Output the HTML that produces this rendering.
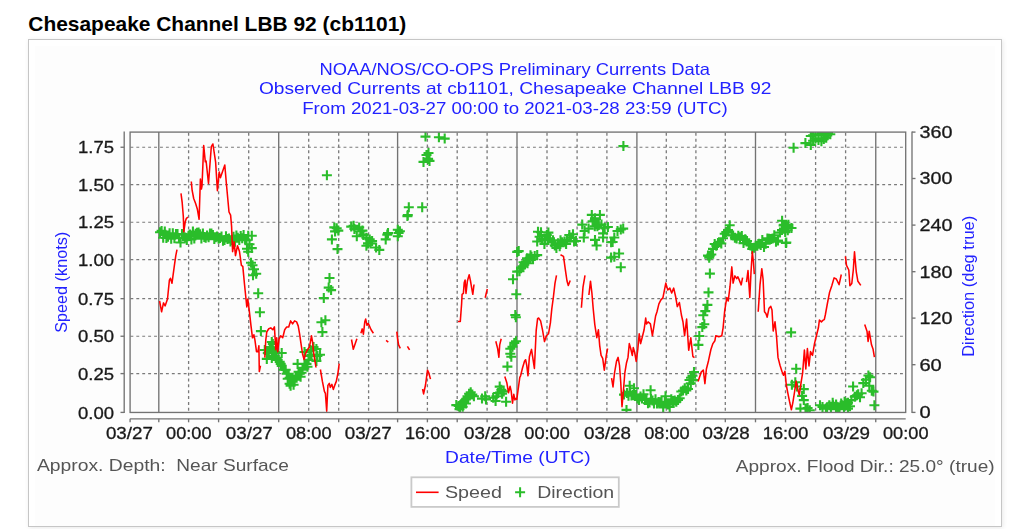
<!DOCTYPE html>
<html><head><meta charset="utf-8"><title>Chesapeake Channel LBB 92 (cb1101)</title>
<style>
html,body{margin:0;padding:0;background:#fff;width:1014px;height:529px;overflow:hidden;font-family:"Liberation Sans",sans-serif}
#box{position:absolute;left:28px;top:39px;width:972px;height:486px;border:1px solid #c6c6c6;background:#fff;box-shadow:1px 1px 5px rgba(0,0,0,0.09)}
svg{position:absolute;left:0;top:0;display:block}
</style></head><body>
<div id="box"></div>
<svg width="1014" height="529" viewBox="0 0 1014 529" font-family="'Liberation Sans', sans-serif"><defs><filter id="soft" x="0" y="0" width="1" height="1"><feGaussianBlur stdDeviation="0.38"/></filter></defs><text x="28.3" y="31" font-size="21" font-weight="bold" fill="#000" textLength="378" lengthAdjust="spacingAndGlyphs">Chesapeake Channel LBB 92 (cb1101)</text><g filter="url(#soft)"><rect x="35" y="46" width="960" height="480" fill="#fdfdfd"/>
<text x="514.7" y="74.6" font-size="16.5" fill="#2222ff" text-anchor="middle" textLength="390.5" lengthAdjust="spacingAndGlyphs">NOAA/NOS/CO-OPS Preliminary Currents Data</text>
<text x="515.2" y="94.0" font-size="16.5" fill="#2222ff" text-anchor="middle" textLength="512.5" lengthAdjust="spacingAndGlyphs">Observed Currents at cb1101, Chesapeake Channel LBB 92</text>
<text x="514.9" y="114.0" font-size="16.5" fill="#2222ff" text-anchor="middle" textLength="425.5" lengthAdjust="spacingAndGlyphs">From 2021-03-27 00:00 to 2021-03-28 23:59 (UTC)</text>
<rect x="130.1" y="132.1" width="775.60" height="280.35" fill="#fcfcfc"/>
<line x1="158.80" y1="132.1" x2="158.80" y2="412.45" stroke="#737373" stroke-width="1.35"/>
<line x1="188.60" y1="132.1" x2="188.60" y2="412.45" stroke="#7a7a7a" stroke-width="1.3" stroke-dasharray="3 2.85" stroke-dashoffset="-0.7"/>
<line x1="218.60" y1="132.1" x2="218.60" y2="412.45" stroke="#7a7a7a" stroke-width="1.3" stroke-dasharray="3 2.85" stroke-dashoffset="-0.7"/>
<line x1="248.70" y1="132.1" x2="248.70" y2="412.45" stroke="#7a7a7a" stroke-width="1.3" stroke-dasharray="3 2.85" stroke-dashoffset="-0.7"/>
<line x1="278.70" y1="132.1" x2="278.70" y2="412.45" stroke="#737373" stroke-width="1.35"/>
<line x1="308.70" y1="132.1" x2="308.70" y2="412.45" stroke="#7a7a7a" stroke-width="1.3" stroke-dasharray="3 2.85" stroke-dashoffset="-0.7"/>
<line x1="338.70" y1="132.1" x2="338.70" y2="412.45" stroke="#7a7a7a" stroke-width="1.3" stroke-dasharray="3 2.85" stroke-dashoffset="-0.7"/>
<line x1="368.60" y1="132.1" x2="368.60" y2="412.45" stroke="#7a7a7a" stroke-width="1.3" stroke-dasharray="3 2.85" stroke-dashoffset="-0.7"/>
<line x1="397.60" y1="132.1" x2="397.60" y2="412.45" stroke="#737373" stroke-width="1.35"/>
<line x1="427.40" y1="132.1" x2="427.40" y2="412.45" stroke="#7a7a7a" stroke-width="1.3" stroke-dasharray="3 2.85" stroke-dashoffset="-0.7"/>
<line x1="457.20" y1="132.1" x2="457.20" y2="412.45" stroke="#7a7a7a" stroke-width="1.3" stroke-dasharray="3 2.85" stroke-dashoffset="-0.7"/>
<line x1="487.10" y1="132.1" x2="487.10" y2="412.45" stroke="#7a7a7a" stroke-width="1.3" stroke-dasharray="3 2.85" stroke-dashoffset="-0.7"/>
<line x1="517.00" y1="132.1" x2="517.00" y2="412.45" stroke="#737373" stroke-width="1.35"/>
<line x1="547.00" y1="132.1" x2="547.00" y2="412.45" stroke="#7a7a7a" stroke-width="1.3" stroke-dasharray="3 2.85" stroke-dashoffset="-0.7"/>
<line x1="577.10" y1="132.1" x2="577.10" y2="412.45" stroke="#7a7a7a" stroke-width="1.3" stroke-dasharray="3 2.85" stroke-dashoffset="-0.7"/>
<line x1="606.90" y1="132.1" x2="606.90" y2="412.45" stroke="#7a7a7a" stroke-width="1.3" stroke-dasharray="3 2.85" stroke-dashoffset="-0.7"/>
<line x1="636.90" y1="132.1" x2="636.90" y2="412.45" stroke="#737373" stroke-width="1.35"/>
<line x1="666.30" y1="132.1" x2="666.30" y2="412.45" stroke="#7a7a7a" stroke-width="1.3" stroke-dasharray="3 2.85" stroke-dashoffset="-0.7"/>
<line x1="695.90" y1="132.1" x2="695.90" y2="412.45" stroke="#7a7a7a" stroke-width="1.3" stroke-dasharray="3 2.85" stroke-dashoffset="-0.7"/>
<line x1="725.30" y1="132.1" x2="725.30" y2="412.45" stroke="#7a7a7a" stroke-width="1.3" stroke-dasharray="3 2.85" stroke-dashoffset="-0.7"/>
<line x1="755.50" y1="132.1" x2="755.50" y2="412.45" stroke="#737373" stroke-width="1.35"/>
<line x1="785.50" y1="132.1" x2="785.50" y2="412.45" stroke="#7a7a7a" stroke-width="1.3" stroke-dasharray="3 2.85" stroke-dashoffset="-0.7"/>
<line x1="815.60" y1="132.1" x2="815.60" y2="412.45" stroke="#7a7a7a" stroke-width="1.3" stroke-dasharray="3 2.85" stroke-dashoffset="-0.7"/>
<line x1="845.60" y1="132.1" x2="845.60" y2="412.45" stroke="#7a7a7a" stroke-width="1.3" stroke-dasharray="3 2.85" stroke-dashoffset="-0.7"/>
<line x1="875.75" y1="132.1" x2="875.75" y2="412.45" stroke="#737373" stroke-width="1.35"/>
<line x1="130.1" y1="373.60" x2="905.7" y2="373.60" stroke="#7a7a7a" stroke-width="1.2" stroke-dasharray="2.9 3.02" stroke-dashoffset="-0.3"/>
<line x1="130.1" y1="336.25" x2="905.7" y2="336.25" stroke="#7a7a7a" stroke-width="1.2" stroke-dasharray="2.9 3.02" stroke-dashoffset="-0.3"/>
<line x1="130.1" y1="298.65" x2="905.7" y2="298.65" stroke="#7a7a7a" stroke-width="1.2" stroke-dasharray="2.9 3.02" stroke-dashoffset="-0.3"/>
<line x1="130.1" y1="259.60" x2="905.7" y2="259.60" stroke="#7a7a7a" stroke-width="1.2" stroke-dasharray="2.9 3.02" stroke-dashoffset="-0.3"/>
<line x1="130.1" y1="222.25" x2="905.7" y2="222.25" stroke="#7a7a7a" stroke-width="1.2" stroke-dasharray="2.9 3.02" stroke-dashoffset="-0.3"/>
<line x1="130.1" y1="184.66" x2="905.7" y2="184.66" stroke="#7a7a7a" stroke-width="1.2" stroke-dasharray="2.9 3.02" stroke-dashoffset="-0.3"/>
<line x1="130.1" y1="147.25" x2="905.7" y2="147.25" stroke="#7a7a7a" stroke-width="1.2" stroke-dasharray="2.9 3.02" stroke-dashoffset="-0.3"/>
<clipPath id="pc"><rect x="130.1" y="132.1" width="775.60" height="280.35"/></clipPath>
<g clip-path="url(#pc)"><path d="M321.9 175.3h10M326.9 170.3v10M242.0 248.7h10M247.0 243.7v10M246.8 248.1h10M251.8 243.1v10M243.2 251.7h10M248.2 246.7v10M244.5 244.3h10M249.5 239.3v10M246.8 235.7h10M251.8 230.7v10M243.2 235.7h10M248.2 230.7v10M246.0 262.8h10M251.0 257.8v10M247.5 265.3h10M252.5 260.3v10M249.0 269.3h10M254.0 264.3v10M251.2 273.8h10M256.2 268.8v10M248.0 275.3h10M253.0 270.3v10M253.2 293.3h10M258.2 288.3v10M254.9 312.3h10M259.9 307.3v10M255.9 331.1h10M260.9 326.1v10M259.8 350.0h10M264.8 345.0v10M262.8 353.0h10M267.8 348.0v10M265.8 348.0h10M270.8 343.0v10M267.8 344.0h10M272.8 339.0v10M269.8 352.0h10M274.8 347.0v10M261.8 358.9h10M266.8 353.9v10M266.8 357.9h10M271.8 352.9v10M271.7 357.9h10M276.7 352.9v10M274.7 361.9h10M279.7 356.9v10M276.7 365.9h10M281.7 360.9v10M278.7 369.8h10M283.7 364.8v10M281.7 373.8h10M286.7 368.8v10M284.6 377.8h10M289.6 372.8v10M285.6 385.7h10M290.6 380.7v10M287.6 381.7h10M292.6 376.7v10M290.6 375.8h10M295.6 370.8v10M293.6 371.8h10M298.6 366.8v10M295.6 376.8h10M300.6 371.8v10M297.5 367.8h10M302.5 362.8v10M292.6 363.9h10M297.6 358.9v10M301.5 363.9h10M306.5 358.9v10M303.5 359.9h10M308.5 354.9v10M304.5 355.9h10M309.5 350.9v10M305.5 350.0h10M310.5 345.0v10M308.5 347.0h10M313.5 342.0v10M311.4 349.0h10M316.4 344.0v10M312.4 355.9h10M317.4 350.9v10M311.4 360.9h10M316.4 355.9v10M299.5 352.0h10M304.5 347.0v10M263.8 352.0h10M268.8 347.0v10M267.8 350.0h10M272.8 345.0v10M271.7 353.0h10M276.7 348.0v10M276.7 353.0h10M281.7 348.0v10M272.7 359.9h10M277.7 354.9v10M275.7 363.9h10M280.7 358.9v10M280.7 369.8h10M285.7 364.8v10M283.7 373.8h10M288.7 368.8v10M286.6 377.8h10M291.6 372.8v10M288.6 384.7h10M293.6 379.7v10M291.6 377.8h10M296.6 372.8v10M294.6 373.8h10M299.6 368.8v10M297.5 369.8h10M302.5 364.8v10M299.5 363.9h10M304.5 358.9v10M266.8 342.0h10M271.8 337.0v10M264.8 347.0h10M269.8 342.0v10M269.8 355.9h10M274.8 350.9v10M282.7 378.8h10M287.7 373.8v10M284.6 383.7h10M289.6 378.7v10M289.6 379.7h10M294.6 374.7v10M296.5 372.8h10M301.5 367.8v10M302.5 366.8h10M307.5 361.8v10M306.5 354.9h10M311.5 349.9v10M316.4 322.2h10M321.4 317.2v10M320.4 320.2h10M325.4 315.2v10M317.4 332.1h10M322.4 327.1v10M315.0 354.8h10M320.0 349.8v10M318.8 298.1h10M323.8 293.1v10M323.7 287.6h10M328.7 282.6v10M324.5 278.0h10M329.5 273.0v10M326.1 290.1h10M331.1 285.1v10M329.3 227.4h10M334.3 222.4v10M331.7 228.2h10M336.7 223.2v10M333.3 230.6h10M338.3 225.6v10M330.1 231.4h10M335.1 226.4v10M326.9 239.4h10M331.9 234.4v10M332.5 249.1h10M337.5 244.1v10M346.2 226.6h10M351.2 221.6v10M348.6 225.8h10M353.6 220.8v10M349.4 229.0h10M354.4 224.0v10M354.2 227.4h10M359.2 222.4v10M357.4 230.6h10M362.4 225.6v10M351.8 236.2h10M356.8 231.2v10M358.2 234.6h10M363.2 229.6v10M361.4 237.8h10M366.4 232.8v10M364.7 239.4h10M369.7 234.4v10M363.0 243.4h10M368.0 238.4v10M365.5 243.4h10M370.5 238.4v10M367.1 241.0h10M372.1 236.0v10M361.4 245.8h10M366.4 240.8v10M374.3 249.9h10M379.3 244.9v10M371.1 247.5h10M376.1 242.5v10M355.4 231.2h10M360.4 226.2v10M358.4 235.1h10M363.4 230.1v10M382.3 234.6h10M387.3 229.6v10M380.7 239.4h10M385.7 234.4v10M383.0 233.1h10M388.0 228.1v10M392.8 229.8h10M397.8 224.8v10M393.6 233.0h10M398.6 228.0v10M392.8 236.2h10M397.8 231.2v10M394.9 231.2h10M399.9 226.2v10M402.4 216.1h10M407.4 211.1v10M403.8 207.2h10M408.8 202.2v10M402.8 215.1h10M407.8 210.1v10M417.2 207.2h10M422.2 202.2v10M420.5 136.6h10M425.5 131.6v10M433.9 137.2h10M438.9 132.2v10M439.7 138.6h10M444.7 133.6v10M423.5 153.0h10M428.5 148.0v10M421.5 155.0h10M426.5 150.0v10M423.1 158.9h10M428.1 153.9v10M418.5 161.9h10M423.5 156.9v10M424.5 160.9h10M429.5 155.9v10M451.3 405.1h10M456.3 400.1v10M453.7 405.9h10M458.7 400.9v10M456.1 404.3h10M461.1 399.3v10M457.7 402.6h10M462.7 397.6v10M459.3 401.0h10M464.3 396.0v10M460.9 399.4h10M465.9 394.4v10M462.5 396.2h10M467.5 391.2v10M464.1 393.8h10M469.1 388.8v10M465.7 392.2h10M470.7 387.2v10M467.3 394.6h10M472.3 389.6v10M468.9 396.2h10M473.9 391.2v10M454.5 409.1h10M459.5 404.1v10M457.7 406.7h10M462.7 401.7v10M460.9 403.5h10M465.9 398.5v10M455.0 407.0h10M460.0 402.0v10M459.0 403.1h10M464.0 398.1v10M462.9 398.2h10M467.9 393.2v10M480.2 396.2h10M485.2 391.2v10M481.0 399.4h10M486.0 394.4v10M477.0 398.6h10M482.0 393.6v10M488.2 397.8h10M493.2 392.8v10M491.4 396.2h10M496.4 391.2v10M493.1 393.0h10M498.1 388.0v10M494.7 386.6h10M499.7 381.6v10M496.3 389.8h10M501.3 384.8v10M498.7 391.4h10M503.7 386.4v10M497.1 393.8h10M502.1 388.8v10M501.1 401.8h10M506.1 396.8v10M490.6 401.0h10M495.6 396.0v10M502.4 366.6h10M507.4 361.6v10M505.3 348.8h10M510.3 343.8v10M505.3 353.8h10M510.3 348.8v10M506.3 356.7h10M511.3 351.7v10M509.3 342.9h10M514.3 337.9v10M511.0 341.3h10M516.0 336.3v10M507.5 346.8h10M512.5 341.8v10M510.9 317.3h10M515.9 312.3v10M510.3 315.0h10M515.3 310.0v10M511.3 294.3h10M516.3 289.3v10M512.2 271.6h10M517.2 266.6v10M508.0 279.3h10M513.0 274.3v10M513.7 251.1h10M518.7 246.1v10M512.2 251.9h10M517.2 246.9v10M514.5 271.2h10M519.5 266.2v10M517.7 266.4h10M522.7 261.4v10M520.9 261.6h10M525.9 256.6v10M524.1 258.4h10M529.1 253.4v10M526.5 256.7h10M531.5 251.7v10M529.7 255.9h10M534.7 250.9v10M532.2 255.1h10M537.2 250.1v10M522.5 263.2h10M527.5 258.2v10M519.3 264.8h10M524.3 259.8v10M516.0 268.3h10M521.0 263.3v10M518.5 262.3h10M523.5 257.3v10M522.0 258.3h10M527.0 253.3v10M525.5 255.3h10M530.5 250.3v10M528.0 259.3h10M533.0 254.3v10M533.0 231.8h10M538.0 226.8v10M532.2 241.5h10M537.2 236.5v10M534.6 236.7h10M539.6 231.7v10M537.0 239.1h10M542.0 234.1v10M539.4 243.9h10M544.4 238.9v10M541.8 235.0h10M546.8 230.0v10M543.4 232.6h10M548.4 227.6v10M545.0 238.3h10M550.0 233.3v10M546.6 242.3h10M551.6 237.3v10M549.8 245.5h10M554.8 240.5v10M551.4 247.9h10M556.4 242.9v10M554.7 246.3h10M559.7 241.3v10M557.1 242.3h10M562.1 237.3v10M559.5 241.5h10M564.5 236.5v10M561.9 239.9h10M566.9 234.9v10M564.3 235.0h10M569.3 230.0v10M565.9 237.5h10M570.9 232.5v10M569.1 241.5h10M574.1 236.5v10M561.1 243.9h10M566.1 238.9v10M536.0 232.3h10M541.0 227.3v10M540.0 240.3h10M545.0 235.3v10M548.0 240.3h10M553.0 235.3v10M553.0 243.3h10M558.0 238.3v10M555.5 240.3h10M560.5 235.3v10M568.0 234.3h10M573.0 229.3v10M571.0 241.0h10M576.0 236.0v10M577.2 224.6h10M582.2 219.6v10M579.6 231.0h10M584.6 226.0v10M578.8 237.5h10M583.8 232.5v10M583.6 228.6h10M588.6 223.6v10M586.8 214.9h10M591.8 209.9v10M587.6 221.4h10M592.6 216.4v10M590.0 218.2h10M595.0 213.2v10M594.9 214.9h10M599.9 209.9v10M592.4 226.2h10M597.4 221.2v10M596.5 224.6h10M601.5 219.6v10M599.7 227.8h10M604.7 222.8v10M602.9 227.0h10M607.9 222.0v10M598.1 233.4h10M603.1 228.4v10M598.1 237.5h10M603.1 232.5v10M590.0 239.9h10M595.0 234.9v10M591.6 245.5h10M596.6 240.5v10M606.1 242.3h10M611.1 237.3v10M609.3 237.5h10M614.3 232.5v10M612.5 231.0h10M617.5 226.0v10M615.8 229.4h10M620.8 224.4v10M618.2 228.6h10M623.2 223.6v10M589.8 226.2h10M594.8 221.2v10M591.8 224.3h10M596.8 219.3v10M593.8 225.0h10M598.8 220.0v10M589.8 220.0h10M594.8 215.0v10M607.6 242.0h10M612.6 237.0v10M609.3 256.7h10M614.3 251.7v10M614.1 253.5h10M619.1 248.5v10M615.8 267.2h10M620.8 262.2v10M606.1 257.6h10M611.1 252.6v10M618.4 146.1h10M623.4 141.1v10M619.0 394.6h10M624.0 389.6v10M624.7 385.8h10M629.7 380.8v10M621.5 409.9h10M626.5 404.9v10M645.6 390.3h10M650.6 385.3v10M660.5 396.3h10M665.5 391.3v10M629.0 388.3h10M634.0 383.3v10M693.4 344.9h10M698.4 339.9v10M694.3 336.0h10M699.3 331.0v10M697.3 327.1h10M702.3 322.1v10M699.3 324.2h10M704.3 319.2v10M698.3 315.3h10M703.3 310.3v10M700.3 311.1h10M705.3 306.1v10M702.4 304.9h10M707.4 299.9v10M703.5 292.4h10M708.5 287.4v10M704.9 273.6h10M709.9 268.6v10M704.2 257.8h10M709.2 252.8v10M689.0 372.1h10M694.0 367.1v10M688.2 380.1h10M693.2 375.1v10M685.8 383.4h10M690.8 378.4v10M788.6 147.8h10M793.6 142.8v10M800.4 143.1h10M805.4 138.1v10M805.8 144.9h10M810.8 139.9v10M808.1 140.7h10M813.1 135.7v10M810.5 138.4h10M815.5 133.4v10M813.5 140.1h10M818.5 135.1v10M816.4 141.3h10M821.4 136.3v10M818.8 139.0h10M823.8 134.0v10M821.2 137.8h10M826.2 132.8v10M822.3 135.4h10M827.3 130.4v10M825.3 134.2h10M830.3 129.2v10M810.5 134.2h10M815.5 129.2v10M808.1 135.4h10M813.1 130.4v10M805.8 136.0h10M810.8 131.0v10M816.4 134.8h10M821.4 129.8v10M813.5 135.4h10M818.5 130.4v10M819.0 133.3h10M824.0 128.3v10M823.0 132.8h10M828.0 127.8v10M807.0 131.3h10M812.0 126.3v10M813.0 131.3h10M818.0 126.3v10M820.0 131.3h10M825.0 126.3v10M781.3 242.5h10M786.3 237.5v10M780.9 243.0h10M785.9 238.0v10M777.1 220.7h10M782.1 215.7v10M779.2 224.9h10M784.2 219.9v10M783.4 226.9h10M788.4 221.9v10M786.5 228.0h10M791.5 223.0v10M780.2 232.1h10M785.2 227.1v10M782.8 230.2h10M787.8 225.2v10M786.1 332.4h10M791.1 327.4v10M791.2 368.7h10M796.2 363.7v10M786.9 384.8h10M791.9 379.8v10M790.3 382.3h10M795.3 377.3v10M792.0 386.5h10M797.0 381.5v10M798.8 389.1h10M803.8 384.1v10M797.1 395.9h10M802.1 390.9v10M798.8 400.1h10M803.8 395.1v10M795.4 408.6h10M800.4 403.6v10M800.5 408.6h10M805.5 403.6v10M804.8 410.3h10M809.8 405.3v10M802.6 408.0h10M807.6 403.0v10M828.0 405.3h10M833.0 400.3v10M833.0 407.3h10M838.0 402.3v10M837.0 405.3h10M842.0 400.3v10M841.0 403.3h10M846.0 398.3v10M845.0 406.3h10M850.0 401.3v10M831.0 409.3h10M836.0 404.3v10M839.0 409.3h10M844.0 404.3v10M822.0 407.3h10M827.0 402.3v10M815.0 405.3h10M820.0 400.3v10M817.5 406.9h10M822.5 401.9v10M824.3 405.2h10M829.3 400.2v10M827.7 402.7h10M832.7 397.7v10M831.1 404.4h10M836.1 399.4v10M836.2 403.5h10M841.2 398.5v10M839.6 401.8h10M844.6 396.8v10M843.0 402.7h10M848.0 397.7v10M846.4 400.1h10M851.4 395.1v10M849.8 396.7h10M854.8 391.7v10M853.2 394.2h10M858.2 389.2v10M856.6 393.3h10M861.6 388.3v10M848.1 386.5h10M853.1 381.5v10M858.3 383.1h10M863.3 378.1v10M860.9 379.7h10M865.9 374.7v10M863.4 375.5h10M868.4 370.5v10M865.1 377.2h10M870.1 372.2v10M864.3 385.7h10M869.3 380.7v10M866.8 390.8h10M871.8 385.8v10M868.5 391.6h10M873.5 386.6v10M869.4 405.2h10M874.4 400.2v10M826.0 408.6h10M831.0 403.6v10M834.5 408.6h10M839.5 403.6v10M843.0 408.6h10M848.0 403.6v10M820.9 408.6h10M825.9 403.6v10M851.9 395.2h10M856.9 390.2v10M855.0 397.3h10M860.0 392.3v10M155.0 232.2h10M160.0 227.2v10M156.6 230.9h10M161.6 225.9v10M158.2 237.7h10M163.2 232.7v10M159.8 231.6h10M164.8 226.6v10M161.4 237.9h10M166.4 232.9v10M163.0 236.7h10M168.0 231.7v10M164.6 233.2h10M169.6 228.2v10M166.2 238.8h10M171.2 233.8v10M167.8 233.3h10M172.8 228.3v10M169.4 238.3h10M174.4 233.3v10M171.0 234.1h10M176.0 229.1v10M172.5 234.1h10M177.5 229.1v10M174.0 237.9h10M179.0 232.9v10M175.5 242.5h10M180.5 237.5v10M177.0 234.1h10M182.0 229.1v10M178.6 234.6h10M183.6 229.6v10M180.2 237.6h10M185.2 232.6v10M181.8 239.9h10M186.8 234.9v10M183.4 236.3h10M188.4 231.3v10M185.0 234.4h10M190.0 229.4v10M186.4 239.4h10M191.4 234.4v10M187.9 231.6h10M192.9 226.6v10M189.3 238.5h10M194.3 233.5v10M190.7 233.8h10M195.7 228.8v10M192.1 232.7h10M197.1 227.7v10M193.6 232.5h10M198.6 227.5v10M195.0 234.2h10M200.0 229.2v10M196.4 238.6h10M201.4 233.6v10M197.9 233.5h10M202.9 228.5v10M199.3 237.0h10M204.3 232.0v10M200.7 237.7h10M205.7 232.7v10M202.1 235.6h10M207.1 230.6v10M203.6 237.3h10M208.6 232.3v10M205.0 233.4h10M210.0 228.4v10M206.4 233.5h10M211.4 228.5v10M207.9 234.9h10M212.9 229.9v10M209.3 239.1h10M214.3 234.1v10M210.7 237.2h10M215.7 232.2v10M212.1 236.4h10M217.1 231.4v10M213.6 238.8h10M218.6 233.8v10M215.0 237.9h10M220.0 232.9v10M216.5 236.6h10M221.5 231.6v10M218.0 240.8h10M223.0 235.8v10M219.5 240.0h10M224.5 235.0v10M221.0 236.2h10M226.0 231.2v10M222.5 238.9h10M227.5 233.9v10M224.0 238.5h10M229.0 233.5v10M225.5 241.5h10M230.5 236.5v10M227.0 239.9h10M232.0 234.9v10M228.5 236.8h10M233.5 231.8v10M229.9 241.7h10M234.9 236.7v10M231.4 235.6h10M236.4 230.6v10M232.8 237.7h10M237.8 232.7v10M234.3 240.1h10M239.3 235.1v10M235.7 235.9h10M240.7 230.9v10M237.2 238.2h10M242.2 233.2v10M238.6 235.1h10M243.6 230.1v10M240.1 239.5h10M245.1 234.5v10M241.5 240.2h10M246.5 235.2v10M622.0 392.9h10M627.0 387.9v10M623.5 395.8h10M628.5 390.8v10M625.0 391.8h10M630.0 386.8v10M626.5 395.4h10M631.5 390.4v10M628.0 395.1h10M633.0 390.1v10M629.5 395.4h10M634.5 390.4v10M631.0 394.9h10M636.0 389.9v10M632.5 398.5h10M637.5 393.5v10M634.0 399.9h10M639.0 394.9v10M635.5 396.6h10M640.5 391.6v10M637.0 398.6h10M642.0 393.6v10M638.5 394.3h10M643.5 389.3v10M640.0 399.9h10M645.0 394.9v10M641.5 400.0h10M646.5 395.0v10M643.0 403.2h10M648.0 398.2v10M644.5 402.6h10M649.5 397.6v10M646.0 399.1h10M651.0 394.1v10M647.5 400.6h10M652.5 395.6v10M649.0 403.6h10M654.0 398.6v10M650.5 399.2h10M655.5 394.2v10M652.0 403.5h10M657.0 398.5v10M653.5 401.9h10M658.5 396.9v10M655.0 402.2h10M660.0 397.2v10M656.6 401.8h10M661.6 396.8v10M658.2 407.4h10M663.2 402.4v10M659.8 402.3h10M664.8 397.3v10M661.4 403.3h10M666.4 398.3v10M663.0 404.4h10M668.0 399.4v10M664.7 406.9h10M669.7 401.9v10M666.3 399.3h10M671.3 394.3v10M668.0 400.9h10M673.0 395.9v10M669.7 400.4h10M674.7 395.4v10M671.3 401.7h10M676.3 396.7v10M673.0 399.9h10M678.0 394.9v10M674.7 398.2h10M679.7 393.2v10M676.3 391.5h10M681.3 386.5v10M678.0 390.6h10M683.0 385.6v10M679.7 388.2h10M684.7 383.2v10M681.3 390.4h10M686.3 385.4v10M683.0 389.0h10M688.0 384.0v10M684.5 380.0h10M689.5 375.0v10M686.0 377.7h10M691.0 372.7v10M687.5 375.7h10M692.5 370.7v10M703.0 255.6h10M708.0 250.6v10M704.7 255.8h10M709.7 250.8v10M706.3 254.5h10M711.3 249.5v10M708.0 248.9h10M713.0 243.9v10M709.7 244.0h10M714.7 239.0v10M711.3 245.8h10M716.3 240.8v10M713.0 243.0h10M718.0 238.0v10M714.7 242.3h10M719.7 237.3v10M716.3 243.5h10M721.3 238.5v10M718.0 238.2h10M723.0 233.2v10M719.7 233.8h10M724.7 228.8v10M721.3 232.1h10M726.3 227.1v10M723.0 230.1h10M728.0 225.1v10M724.7 225.3h10M729.7 220.3v10M726.4 235.2h10M731.4 230.2v10M728.1 235.4h10M733.1 230.4v10M729.9 237.8h10M734.9 232.8v10M731.6 238.4h10M736.6 233.4v10M733.3 235.8h10M738.3 230.8v10M735.0 237.3h10M740.0 232.3v10M736.8 236.1h10M741.8 231.1v10M738.5 243.1h10M743.5 238.1v10M740.2 239.2h10M745.2 234.2v10M742.0 241.0h10M747.0 236.0v10M743.8 244.1h10M748.8 239.1v10M745.5 245.4h10M750.5 240.4v10M747.2 249.0h10M752.2 244.0v10M749.0 247.8h10M754.0 242.8v10M750.7 245.8h10M755.7 240.8v10M752.3 245.8h10M757.3 240.8v10M754.0 243.8h10M759.0 238.8v10M755.7 244.9h10M760.7 239.9v10M757.3 240.1h10M762.3 235.1v10M759.0 247.0h10M764.0 242.0v10M760.7 243.7h10M765.7 238.7v10M762.4 238.4h10M767.4 233.4v10M764.1 238.7h10M769.1 233.7v10M765.9 238.9h10M770.9 233.9v10M767.6 238.4h10M772.6 233.4v10M769.3 235.2h10M774.3 230.2v10M771.0 241.8h10M776.0 236.8v10M773.0 240.6h10M778.0 235.6v10M775.0 232.6h10M780.0 227.6v10M777.0 230.1h10M782.0 225.1v10M778.6 225.4h10M783.6 220.4v10M780.2 224.7h10M785.2 219.7v10M781.8 226.3h10M786.8 221.3v10M783.4 224.7h10M788.4 219.7v10" stroke="#2abd2a" stroke-width="2.1" fill="none"/>
<polyline points="159.6,301 161.6,311.8 163.5,302.9 165.1,305.9 167.5,299 169.4,280.2 170.4,278.3 172,283.2 174.4,265.4 175.8,255.6 177,249.7" fill="none" stroke="#ff0000" stroke-width="1.55" stroke-linejoin="round"/>
<polyline points="181,193.3 182.2,202.7 183.3,216.2 183.8,231.8 185.3,221.4 186.4,218.3 188,217.2" fill="none" stroke="#ff0000" stroke-width="1.55" stroke-linejoin="round"/>
<polyline points="191.3,181.5 192.1,190.2 193.7,198.5 195.7,203.7 197.3,208.9 199.1,219.3 200.4,179 201.4,189 202,186 203.7,145.5 205.3,161.8 206.1,161 208.5,183.5 211.3,146.7 212.9,144 215.6,161.8 217.4,190.7 219.2,172 220.4,177.7 224.8,165 226.5,185 229,212 230.6,215.1 231.6,226.6 232.1,240 232.6,251.6 234.1,241.8 235.5,255.6 237.5,245.7 239.5,251.6 241.4,265.4 242.8,266.4 244.4,283.2 246,299 246.8,306.9 247.8,299 249.3,310.8 251,325.9 252.5,337.8 253.9,334.8 254.9,339.8 256.5,351.7 257.9,351.7 258.9,345.7 259.3,371.5 260.5,365.6" fill="none" stroke="#ff0000" stroke-width="1.55" stroke-linejoin="round"/>
<polyline points="264.8,357.6 265.8,339.8 266.8,331.8 268.8,328.8 270.8,327.9 272.8,329.8 274.4,326.9 275.8,349.7 276.7,337.8 277.7,351.7 279.1,338.8 280.7,335.8 282.7,337.8 284.7,329.8 286.7,326.9 288.7,326.9 290.6,320.9 292.6,323.9 294.6,320.9 296.6,321.9 298.2,325.9 299.6,333.8 301,343.7 302.5,353.7 304.1,359.6 305.5,353.7 307.5,349.7 309.5,346.7 311.5,335.8 312.5,341.7 313.5,351.7 314.4,357.6 316,367.5" fill="none" stroke="#ff0000" stroke-width="1.55" stroke-linejoin="round"/>
<polyline points="320.4,369.5 322.4,381.4 324.4,391.3 325.4,393.3 326.7,411.2 327.9,385.4 329.3,383.4 330.3,387.4 331.9,384.4 333.3,389.4 334.7,385.4 336.3,381.4 337.9,373.5 339.2,363.6" fill="none" stroke="#ff0000" stroke-width="1.55" stroke-linejoin="round"/>
<polyline points="351.5,339.5 353.3,349.3 355.1,344 356.9,338.7" fill="none" stroke="#ff0000" stroke-width="1.55" stroke-linejoin="round"/>
<polyline points="360.9,333.3 362.2,328.9 363.4,334.2 364.8,321.8 365.7,319.1 367,325.3 368.4,323.6 371.1,329.8 373.4,333.3" fill="none" stroke="#ff0000" stroke-width="1.55" stroke-linejoin="round"/>
<polyline points="386.1,340.4 388.3,342.2" fill="none" stroke="#ff0000" stroke-width="1.55" stroke-linejoin="round"/>
<polyline points="396.8,331.6 397.7,339.5 398.6,344.9 400.3,348.4" fill="none" stroke="#ff0000" stroke-width="1.55" stroke-linejoin="round"/>
<polyline points="407.4,346.3 409.6,349.8" fill="none" stroke="#ff0000" stroke-width="1.55" stroke-linejoin="round"/>
<polyline points="422.6,389 423.6,393.9 425.5,385 427.5,370.2 428.9,373.2 430.5,379.1" fill="none" stroke="#ff0000" stroke-width="1.55" stroke-linejoin="round"/>
<polyline points="458,321.4 460.3,321.4 461.6,304 462.1,294.3 463.4,293.4 464.2,282.7 465.1,280.1 466,293.4 467.4,281 469.2,274.8 470.5,281 471.7,288.1 472.8,294.3 474,284.5" fill="none" stroke="#ff0000" stroke-width="1.55" stroke-linejoin="round"/>
<polyline points="485.2,297.8 487.3,289" fill="none" stroke="#ff0000" stroke-width="1.55" stroke-linejoin="round"/>
<polyline points="495.8,341.3 497.6,348.4 498.9,357.3 499.7,344.9 501.2,338.7" fill="none" stroke="#ff0000" stroke-width="1.55" stroke-linejoin="round"/>
<polyline points="504.8,376.6 506.9,383.1 508.5,392.7 510.1,386.3 511.2,391.1 512.5,403.2 513.8,394.3 514.9,399.9 515.6,398.5 516.8,399.3 518.6,386.1 519.8,377.3 520.6,375.8 522.5,368 524.5,361.2 525.6,359.7 526.8,365.6 528,375.8 529.4,356.8 531.5,349.4 533.3,361.2 534.4,368.5 536.2,330.4 537.6,318.6 538.6,318 540.6,320.9 542.5,329.8 544.5,341.6 546.5,335.7 548.5,333.8 550.4,322.9 551.8,308.8 553.4,297 555,283.1 556.5,275.3" fill="none" stroke="#ff0000" stroke-width="1.55" stroke-linejoin="round"/>
<polyline points="560.5,254.8 563.5,256.4 565.3,269.3 567,281 568.3,285.5 570.2,280.4" fill="none" stroke="#ff0000" stroke-width="1.55" stroke-linejoin="round"/>
<polyline points="581.4,307.8 583,287.1 585,275.3" fill="none" stroke="#ff0000" stroke-width="1.55" stroke-linejoin="round"/>
<polyline points="588.9,295 590.5,281.2 591.9,293 593.2,308.8 594.8,324.6 596.8,337.7 598.4,329.8 599.7,345.6 601.1,355.4 602.7,358.4 604.3,370.2 606.3,355.4 607.6,348.5" fill="none" stroke="#ff0000" stroke-width="1.55" stroke-linejoin="round"/>
<polyline points="611.6,378.1 613,387 614.5,373.2 616.5,361.4 618.1,357.4 619.5,365.3 620.8,383.1 622,406.7 623.4,391 624.8,373.2 626.4,363.3 628,357.4 629.3,343.6 630.7,348.5 632.3,355.4 633.3,347.6 634.7,352.5 636.2,361.4 637.8,349.5 639.2,333.8 640.6,343.6 642.1,337.7 644.1,329.8 645.7,318 646.5,324 648.1,321.9 650.4,323.9 652.4,335.7 654,325.9 655.6,316 657,311.7 658.9,303.9 660.9,299.9 662.9,297.9 665.8,283.1 667.8,290 669.8,288.1 671.7,293 673.7,288.1 675.7,297 677.3,306.6 679.4,302.5 681.4,315 683,322 684.6,335.7 686.6,319.1 688.7,350.3 690.8,337.8 692.9,356.5 694.5,357.6" fill="none" stroke="#ff0000" stroke-width="1.55" stroke-linejoin="round"/>
<polyline points="698.1,381.5 701.2,372.1 703.3,370 704.9,383.6 706.4,369 708.5,360.7 710.9,349.5 712.9,343.6 714.9,340.7 715.8,335.7 718.8,336.7 721.8,335.7 723.1,327.8 724.7,310.8 726.8,297.5 728.2,301 730,286.7 731.8,266.9 733.1,283.1 734.9,275.9 736.7,278.6 737.9,276.8 739.4,280.4 741.2,284.9 742.6,277.7" fill="none" stroke="#ff0000" stroke-width="1.55" stroke-linejoin="round"/>
<polyline points="746.5,282.2 748,270.5 749.8,297.5 751,272.3 752.3,251.7 753.4,261.5 754.3,274.1" fill="none" stroke="#ff0000" stroke-width="1.55" stroke-linejoin="round"/>
<polyline points="758.2,311.8 760,284.9 761.8,268.7 763.1,279.5 764.5,311.8 765.9,313.6 767.2,317.2 769,308.2 770.8,306.4 772,310 773.2,331 775,321.8 776.5,336 778,357.4 780,365.3 781.9,371.2 783.5,375.2 784.9,371.2 786.3,385 787.8,392.9 789.8,402.8 791.4,409.7 792.8,402.8 794.7,391 796.1,381.1 797.7,389 799.3,394.9 801.3,381.1 802.6,373.2 804.4,350 805.8,369 807.4,348.5 809,366 810.5,351.5 812.5,355.4 814.5,343.6 816.4,335.7 818.4,327.8 819.4,320 821.4,321.9 823.3,320 824.3,319.6 825.3,315 827.3,304 829.5,292.6 831.8,285.8 834.1,277.9 836.3,279 839.1,284.7 841.3,274.5" fill="none" stroke="#ff0000" stroke-width="1.55" stroke-linejoin="round"/>
<polyline points="845.4,256.3 846.5,265.4 848.8,270 849.9,285.8 851.8,283.5 853.3,270 854.5,251.8 856.3,272.2 857.9,281.3 860.8,285.4" fill="none" stroke="#ff0000" stroke-width="1.55" stroke-linejoin="round"/>
<polyline points="864.7,324.4 867,331.2 868.1,341.4 869.2,331.2 871.5,344.8 873.1,349.3 874.4,357.2" fill="none" stroke="#ff0000" stroke-width="1.55" stroke-linejoin="round"/>
</g>
<rect x="130.1" y="132.1" width="775.60" height="280.35" fill="none" stroke="#737373" stroke-width="1.35"/>
<line x1="124.2" y1="131.5" x2="124.2" y2="413.05" stroke="#737373" stroke-width="1.35"/>
<line x1="120.5" y1="412.40" x2="124.2" y2="412.40" stroke="#737373" stroke-width="1.35"/>
<text x="114.0" y="418.5" font-size="16.5" fill="#1a1a1a" text-anchor="end" textLength="36" lengthAdjust="spacingAndGlyphs" stroke="#1a1a1a" stroke-width="0.3">0.00</text>
<line x1="120.5" y1="373.60" x2="124.2" y2="373.60" stroke="#737373" stroke-width="1.35"/>
<text x="114.0" y="379.7" font-size="16.5" fill="#1a1a1a" text-anchor="end" textLength="36" lengthAdjust="spacingAndGlyphs" stroke="#1a1a1a" stroke-width="0.3">0.25</text>
<line x1="120.5" y1="336.25" x2="124.2" y2="336.25" stroke="#737373" stroke-width="1.35"/>
<text x="114.0" y="342.4" font-size="16.5" fill="#1a1a1a" text-anchor="end" textLength="36" lengthAdjust="spacingAndGlyphs" stroke="#1a1a1a" stroke-width="0.3">0.50</text>
<line x1="120.5" y1="298.65" x2="124.2" y2="298.65" stroke="#737373" stroke-width="1.35"/>
<text x="114.0" y="304.8" font-size="16.5" fill="#1a1a1a" text-anchor="end" textLength="36" lengthAdjust="spacingAndGlyphs" stroke="#1a1a1a" stroke-width="0.3">0.75</text>
<line x1="120.5" y1="259.60" x2="124.2" y2="259.60" stroke="#737373" stroke-width="1.35"/>
<text x="114.0" y="265.7" font-size="16.5" fill="#1a1a1a" text-anchor="end" textLength="36" lengthAdjust="spacingAndGlyphs" stroke="#1a1a1a" stroke-width="0.3">1.00</text>
<line x1="120.5" y1="222.25" x2="124.2" y2="222.25" stroke="#737373" stroke-width="1.35"/>
<text x="114.0" y="228.3" font-size="16.5" fill="#1a1a1a" text-anchor="end" textLength="36" lengthAdjust="spacingAndGlyphs" stroke="#1a1a1a" stroke-width="0.3">1.25</text>
<line x1="120.5" y1="184.66" x2="124.2" y2="184.66" stroke="#737373" stroke-width="1.35"/>
<text x="114.0" y="190.8" font-size="16.5" fill="#1a1a1a" text-anchor="end" textLength="36" lengthAdjust="spacingAndGlyphs" stroke="#1a1a1a" stroke-width="0.3">1.50</text>
<line x1="120.5" y1="147.25" x2="124.2" y2="147.25" stroke="#737373" stroke-width="1.35"/>
<text x="114.0" y="153.3" font-size="16.5" fill="#1a1a1a" text-anchor="end" textLength="36" lengthAdjust="spacingAndGlyphs" stroke="#1a1a1a" stroke-width="0.3">1.75</text>
<line x1="912" y1="131.5" x2="912" y2="413.05" stroke="#737373" stroke-width="1.35"/>
<line x1="912" y1="412.40" x2="915.5" y2="412.40" stroke="#737373" stroke-width="1.35"/>
<text x="919.4" y="418.2" font-size="16.5" fill="#1a1a1a" text-anchor="start" textLength="11.2" lengthAdjust="spacingAndGlyphs" stroke="#1a1a1a" stroke-width="0.3">0</text>
<line x1="912" y1="364.70" x2="915.5" y2="364.70" stroke="#737373" stroke-width="1.35"/>
<text x="919.4" y="370.5" font-size="16.5" fill="#1a1a1a" text-anchor="start" textLength="22.4" lengthAdjust="spacingAndGlyphs" stroke="#1a1a1a" stroke-width="0.3">60</text>
<line x1="912" y1="318.10" x2="915.5" y2="318.10" stroke="#737373" stroke-width="1.35"/>
<text x="919.4" y="323.9" font-size="16.5" fill="#1a1a1a" text-anchor="start" textLength="33" lengthAdjust="spacingAndGlyphs" stroke="#1a1a1a" stroke-width="0.3">120</text>
<line x1="912" y1="271.70" x2="915.5" y2="271.70" stroke="#737373" stroke-width="1.35"/>
<text x="919.4" y="277.5" font-size="16.5" fill="#1a1a1a" text-anchor="start" textLength="33" lengthAdjust="spacingAndGlyphs" stroke="#1a1a1a" stroke-width="0.3">180</text>
<line x1="912" y1="225.10" x2="915.5" y2="225.10" stroke="#737373" stroke-width="1.35"/>
<text x="919.4" y="230.9" font-size="16.5" fill="#1a1a1a" text-anchor="start" textLength="33" lengthAdjust="spacingAndGlyphs" stroke="#1a1a1a" stroke-width="0.3">240</text>
<line x1="912" y1="178.50" x2="915.5" y2="178.50" stroke="#737373" stroke-width="1.35"/>
<text x="919.4" y="184.3" font-size="16.5" fill="#1a1a1a" text-anchor="start" textLength="33" lengthAdjust="spacingAndGlyphs" stroke="#1a1a1a" stroke-width="0.3">300</text>
<line x1="912" y1="132.10" x2="915.5" y2="132.10" stroke="#737373" stroke-width="1.35"/>
<text x="919.4" y="137.9" font-size="16.5" fill="#1a1a1a" text-anchor="start" textLength="33" lengthAdjust="spacingAndGlyphs" stroke="#1a1a1a" stroke-width="0.3">360</text>
<line x1="130.1" y1="418.8" x2="905.7" y2="418.8" stroke="#737373" stroke-width="1.35"/>
<line x1="130.10" y1="418.8" x2="130.10" y2="422.3" stroke="#737373" stroke-width="1.35"/>
<line x1="158.80" y1="418.8" x2="158.80" y2="422.3" stroke="#737373" stroke-width="1.35"/>
<line x1="188.60" y1="418.8" x2="188.60" y2="422.3" stroke="#737373" stroke-width="1.35"/>
<line x1="218.60" y1="418.8" x2="218.60" y2="422.3" stroke="#737373" stroke-width="1.35"/>
<line x1="248.70" y1="418.8" x2="248.70" y2="422.3" stroke="#737373" stroke-width="1.35"/>
<line x1="278.70" y1="418.8" x2="278.70" y2="422.3" stroke="#737373" stroke-width="1.35"/>
<line x1="308.70" y1="418.8" x2="308.70" y2="422.3" stroke="#737373" stroke-width="1.35"/>
<line x1="338.70" y1="418.8" x2="338.70" y2="422.3" stroke="#737373" stroke-width="1.35"/>
<line x1="368.60" y1="418.8" x2="368.60" y2="422.3" stroke="#737373" stroke-width="1.35"/>
<line x1="397.60" y1="418.8" x2="397.60" y2="422.3" stroke="#737373" stroke-width="1.35"/>
<line x1="427.40" y1="418.8" x2="427.40" y2="422.3" stroke="#737373" stroke-width="1.35"/>
<line x1="457.20" y1="418.8" x2="457.20" y2="422.3" stroke="#737373" stroke-width="1.35"/>
<line x1="487.10" y1="418.8" x2="487.10" y2="422.3" stroke="#737373" stroke-width="1.35"/>
<line x1="517.00" y1="418.8" x2="517.00" y2="422.3" stroke="#737373" stroke-width="1.35"/>
<line x1="547.00" y1="418.8" x2="547.00" y2="422.3" stroke="#737373" stroke-width="1.35"/>
<line x1="577.10" y1="418.8" x2="577.10" y2="422.3" stroke="#737373" stroke-width="1.35"/>
<line x1="606.90" y1="418.8" x2="606.90" y2="422.3" stroke="#737373" stroke-width="1.35"/>
<line x1="636.90" y1="418.8" x2="636.90" y2="422.3" stroke="#737373" stroke-width="1.35"/>
<line x1="666.30" y1="418.8" x2="666.30" y2="422.3" stroke="#737373" stroke-width="1.35"/>
<line x1="695.90" y1="418.8" x2="695.90" y2="422.3" stroke="#737373" stroke-width="1.35"/>
<line x1="725.30" y1="418.8" x2="725.30" y2="422.3" stroke="#737373" stroke-width="1.35"/>
<line x1="755.50" y1="418.8" x2="755.50" y2="422.3" stroke="#737373" stroke-width="1.35"/>
<line x1="785.50" y1="418.8" x2="785.50" y2="422.3" stroke="#737373" stroke-width="1.35"/>
<line x1="815.60" y1="418.8" x2="815.60" y2="422.3" stroke="#737373" stroke-width="1.35"/>
<line x1="845.60" y1="418.8" x2="845.60" y2="422.3" stroke="#737373" stroke-width="1.35"/>
<line x1="875.75" y1="418.8" x2="875.75" y2="422.3" stroke="#737373" stroke-width="1.35"/>
<text x="152.9" y="439.1" font-size="16.5" fill="#1a1a1a" text-anchor="end" textLength="47" lengthAdjust="spacingAndGlyphs" stroke="#1a1a1a" stroke-width="0.3">03/27</text>
<text x="166.1" y="439.1" font-size="16.5" fill="#1a1a1a" text-anchor="start" textLength="45.5" lengthAdjust="spacingAndGlyphs" stroke="#1a1a1a" stroke-width="0.3">00:00</text>
<text x="272.8" y="439.1" font-size="16.5" fill="#1a1a1a" text-anchor="end" textLength="47" lengthAdjust="spacingAndGlyphs" stroke="#1a1a1a" stroke-width="0.3">03/27</text>
<text x="286.0" y="439.1" font-size="16.5" fill="#1a1a1a" text-anchor="start" textLength="45.5" lengthAdjust="spacingAndGlyphs" stroke="#1a1a1a" stroke-width="0.3">08:00</text>
<text x="391.7" y="439.1" font-size="16.5" fill="#1a1a1a" text-anchor="end" textLength="47" lengthAdjust="spacingAndGlyphs" stroke="#1a1a1a" stroke-width="0.3">03/27</text>
<text x="404.9" y="439.1" font-size="16.5" fill="#1a1a1a" text-anchor="start" textLength="45.5" lengthAdjust="spacingAndGlyphs" stroke="#1a1a1a" stroke-width="0.3">16:00</text>
<text x="511.1" y="439.1" font-size="16.5" fill="#1a1a1a" text-anchor="end" textLength="47" lengthAdjust="spacingAndGlyphs" stroke="#1a1a1a" stroke-width="0.3">03/28</text>
<text x="524.3" y="439.1" font-size="16.5" fill="#1a1a1a" text-anchor="start" textLength="45.5" lengthAdjust="spacingAndGlyphs" stroke="#1a1a1a" stroke-width="0.3">00:00</text>
<text x="631.0" y="439.1" font-size="16.5" fill="#1a1a1a" text-anchor="end" textLength="47" lengthAdjust="spacingAndGlyphs" stroke="#1a1a1a" stroke-width="0.3">03/28</text>
<text x="644.2" y="439.1" font-size="16.5" fill="#1a1a1a" text-anchor="start" textLength="45.5" lengthAdjust="spacingAndGlyphs" stroke="#1a1a1a" stroke-width="0.3">08:00</text>
<text x="749.6" y="439.1" font-size="16.5" fill="#1a1a1a" text-anchor="end" textLength="47" lengthAdjust="spacingAndGlyphs" stroke="#1a1a1a" stroke-width="0.3">03/28</text>
<text x="762.8" y="439.1" font-size="16.5" fill="#1a1a1a" text-anchor="start" textLength="45.5" lengthAdjust="spacingAndGlyphs" stroke="#1a1a1a" stroke-width="0.3">16:00</text>
<text x="869.9" y="439.1" font-size="16.5" fill="#1a1a1a" text-anchor="end" textLength="47" lengthAdjust="spacingAndGlyphs" stroke="#1a1a1a" stroke-width="0.3">03/29</text>
<text x="883.0" y="439.1" font-size="16.5" fill="#1a1a1a" text-anchor="start" textLength="45.5" lengthAdjust="spacingAndGlyphs" stroke="#1a1a1a" stroke-width="0.3">00:00</text>
<text transform="translate(67.1,282.3) rotate(-90)" font-size="16" fill="#2222ff" text-anchor="middle" textLength="101" lengthAdjust="spacingAndGlyphs">Speed (knots)</text>
<text transform="translate(973.8,286.3) rotate(-90)" font-size="16" fill="#2222ff" text-anchor="middle" textLength="141" lengthAdjust="spacingAndGlyphs">Direction (deg true)</text>
<text x="517.8" y="463.4" font-size="16.5" fill="#2222ff" text-anchor="middle" textLength="145.5" lengthAdjust="spacingAndGlyphs">Date/Time (UTC)</text>
<text x="36.9" y="470.5" font-size="16.2" fill="#555555" text-anchor="start" textLength="128.8" lengthAdjust="spacingAndGlyphs">Approx. Depth:</text>
<text x="176.3" y="470.5" font-size="16.2" fill="#555555" text-anchor="start" textLength="112.5" lengthAdjust="spacingAndGlyphs">Near Surface</text>
<text x="735.8" y="471.9" font-size="16.2" fill="#555555" text-anchor="start" textLength="258.8" lengthAdjust="spacingAndGlyphs">Approx. Flood Dir.: 25.0° (true)</text>
<rect x="411.4" y="477.3" width="207.4" height="29.6" fill="#ffffff" stroke="#cacaca" stroke-width="1.8"/>
<line x1="416" y1="492.3" x2="438.6" y2="492.3" stroke="#ff0000" stroke-width="1.6"/>
<text x="444.9" y="497.8" font-size="16.5" fill="#555555" text-anchor="start" textLength="57" lengthAdjust="spacingAndGlyphs">Speed</text>
<path d="M515.1 492.3h10M520.1 487.3v10" stroke="#2abd2a" stroke-width="2"/>
<text x="537.2" y="497.8" font-size="16.5" fill="#555555" text-anchor="start" textLength="77" lengthAdjust="spacingAndGlyphs">Direction</text></g></svg>
</body></html>
